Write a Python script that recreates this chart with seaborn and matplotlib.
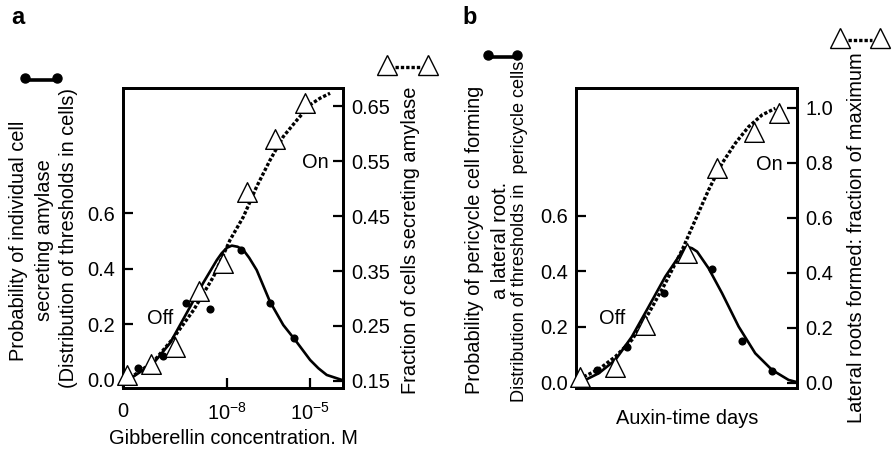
import matplotlib
matplotlib.use('Agg')
import matplotlib.pyplot as plt
import seaborn as sns
from matplotlib.lines import Line2D

# ---------------- data ----------------
# Panel a : gibberellin, x = log10 concentration (M)
a_dot_logx = [-11.21, -10.32, -9.48, -8.61, -7.50, -6.45, -5.60]
a_dot_prob = [0.042, 0.086, 0.276, 0.255, 0.468, 0.276, 0.150]
a_tri_logx = [-11.62, -10.76, -9.88, -9.01, -8.13, -7.29, -6.27, -5.18]
a_tri_frac = [0.161, 0.181, 0.212, 0.313, 0.364, 0.495, 0.590, 0.656]
a_fit_logx = [-11.39, -10.66, -10.06, -9.46, -8.86, -8.37, -8.20, -8.01, -7.83,
              -7.62, -7.41, -7.20, -6.93, -6.45, -5.97, -5.54, -5.00, -4.70,
              -4.40, -3.85]
a_fit_prob = [0.012, 0.060, 0.133, 0.241, 0.350, 0.432, 0.456, 0.476, 0.484,
              0.480, 0.468, 0.440, 0.396, 0.282, 0.198, 0.144, 0.072, 0.042,
              0.018, 0.000]
a_sig_logx = [-11.51, -10.66, -9.94, -9.21, -8.49, -7.89, -7.41, -6.93, -6.45,
              -5.97, -5.48, -5.00, -4.64, -4.28]
a_sig_frac = [0.155, 0.185, 0.228, 0.279, 0.340, 0.407, 0.449, 0.504, 0.552,
              0.595, 0.625, 0.653, 0.665, 0.674]
a_xticks = [-11.76, -8, -5]
a_xticklabels = ['0', '$10^{-8}$', '$10^{-5}$']
a_left_ticks = [0.0, 0.2, 0.4, 0.6]
a_right_ticks = [0.15, 0.25, 0.35, 0.45, 0.55, 0.65]

# Panel b : auxin-time (arbitrary day scale)
b_dot_x = [0.95, 2.31, 3.97, 6.15, 7.51, 8.87]
b_dot_prob = [0.044, 0.128, 0.320, 0.406, 0.148, 0.041]
b_tri_x = [0.20, 1.78, 3.14, 5.02, 6.38, 8.04, 9.17]
b_tri_frac = [0.021, 0.058, 0.209, 0.470, 0.780, 0.913, 0.980]
b_fit_x = [0.27, 1.03, 1.78, 2.53, 3.29, 4.04, 4.65, 4.85, 5.02, 5.25, 5.48,
           6.00, 6.61, 7.36, 8.11, 8.87, 9.62, 10.0]
b_fit_prob = [0.002, 0.032, 0.080, 0.164, 0.272, 0.380, 0.452, 0.475, 0.488,
              0.482, 0.470, 0.410, 0.320, 0.200, 0.104, 0.044, 0.008, 0.000]
b_sig_x = [0.35, 1.03, 1.78, 2.53, 3.29, 4.04, 4.80, 5.40, 6.00, 6.61, 7.21,
           7.81, 8.42, 9.02]
b_sig_frac = [0.021, 0.048, 0.094, 0.155, 0.252, 0.361, 0.482, 0.592, 0.701,
              0.798, 0.871, 0.931, 0.974, 0.998]
b_left_ticks = [0.0, 0.2, 0.4, 0.6]
b_right_ticks = [0.0, 0.2, 0.4, 0.6, 0.8, 1.0]

# ---------------- style ----------------
sns.set_theme(style='white')
plt.rcParams['font.family'] = ['Liberation Sans', 'DejaVu Sans']
plt.rcParams['mathtext.fontset'] = 'custom'
plt.rcParams['mathtext.rm'] = 'Liberation Sans'
plt.rcParams['mathtext.it'] = 'Liberation Sans:italic'
plt.rcParams['mathtext.bf'] = 'Liberation Sans:bold'
plt.rcParams['text.color'] = 'black'

FS = 14.4
W, H = 893, 450
fig = plt.figure(figsize=(W / 100, H / 100), dpi=100)


def fx(px):
    return px / W


def fy(py):
    return 1 - py / H


DOT = (0, (1.0, 0.6))


def style_axes(ax):
    for s in ax.spines.values():
        s.set_linewidth(2.0)
        s.set_color('black')
        s.set_visible(True)


def draw_panel(ax, dx, dy, fx_, fy_, tx, ty, sx, sy):
    axr = ax.twinx()
    sns.lineplot(x=fx_, y=fy_, ax=ax, color='black', linewidth=1.9,
                 sort=False, estimator=None, zorder=2)
    sns.scatterplot(x=dx, y=dy, ax=ax, color='black', s=34, linewidth=0,
                    zorder=4, clip_on=False)
    sns.lineplot(x=sx, y=sy, ax=axr, color='black', linewidth=2.4,
                 linestyle=DOT, sort=False, estimator=None, zorder=2)
    sns.scatterplot(x=tx, y=ty, ax=axr, marker='^', s=200, color='white',
                    edgecolor='black', linewidth=1.0, zorder=5, clip_on=False)
    style_axes(ax)
    style_axes(axr)
    ax.tick_params(axis='y', direction='in', length=7.5, width=1.6,
                   labelsize=FS, colors='black', left=True, right=False, pad=6)
    axr.tick_params(axis='y', direction='in', length=7.5, width=1.6,
                    labelsize=FS, colors='black', right=True, left=False, pad=6)
    ax.set_xlabel('')
    ax.set_ylabel('')
    axr.set_ylabel('')
    return axr


# Panel a
axA = fig.add_axes([fx(123), fy(388), (342.5 - 123) / W, 300 / H])
axAr = draw_panel(axA, a_dot_logx, a_dot_prob, a_fit_logx, a_fit_prob,
                  a_tri_logx, a_tri_frac, a_sig_logx, a_sig_frac)
axA.set_xlim(-11.76, -3.83)
axA.set_ylim(-0.029, 1.052)
axAr.set_ylim(0.137, 0.6836)
axA.set_yticks(a_left_ticks)
axA.set_yticklabels([f'{v:.1f}' for v in a_left_ticks])
axAr.set_yticks(a_right_ticks)
axAr.set_yticklabels([f'{v:.2f}' for v in a_right_ticks])
axA.set_xticks(a_xticks)
axA.set_xticklabels(a_xticklabels)
axA.tick_params(axis='x', direction='in', length=7.5, width=1.6,
                labelsize=FS, colors='black', bottom=True, pad=10)

# Panel b
axB = fig.add_axes([fx(576), fy(388), (797 - 576) / W, 300 / H])
axBr = draw_panel(axB, b_dot_x, b_dot_prob, b_fit_x, b_fit_prob,
                  b_tri_x, b_tri_frac, b_sig_x, b_sig_frac)
axB.set_xlim(0, 10)
axB.set_ylim(-0.021, 1.059)
axBr.set_ylim(-0.02, 1.072)
axB.set_yticks(b_left_ticks)
axB.set_yticklabels([f'{v:.1f}' for v in b_left_ticks])
axBr.set_yticks(b_right_ticks)
axBr.set_yticklabels([f'{v:.1f}' for v in b_right_ticks])
axB.set_xticks([])

# ---------------- texts ----------------
def vtext(px, py, s, size=FS):
    fig.text(fx(px), fy(py), s, rotation=90, ha='center', va='center',
             fontsize=size, color='black')


vtext(18.5, 241, 'Probability of individual cell')
vtext(45, 240, 'secreting amylase')
vtext(69, 238, '(Distribution of thresholds in cells)')
vtext(411, 240, 'Fraction of cells secreting amylase')

vtext(475, 240, 'Probability of pericycle cell forming')
vtext(500, 240, 'a lateral root.')
vtext(519, 231, 'Distribution of thresholds in  pericycle cells', size=13.1)
vtext(856, 238, 'Lateral roots formed: fraction of maximum')

fig.text(fx(233), fy(438), 'Gibberellin concentration. M', ha='center',
         va='center', fontsize=FS)
fig.text(fx(687), fy(418), 'Auxin-time days', ha='center', va='center',
         fontsize=FS)

fig.text(fx(329), fy(163), 'On', ha='right', va='center', fontsize=FS)
fig.text(fx(160), fy(318), 'Off', ha='center', va='center', fontsize=FS)
fig.text(fx(783), fy(165), 'On', ha='right', va='center', fontsize=FS)
fig.text(fx(612.5), fy(318.5), 'Off', ha='center', va='center', fontsize=FS)

fig.text(fx(18), fy(18), 'a', ha='center', va='center', fontsize=17,
         fontweight='bold')
fig.text(fx(470), fy(17), 'b', ha='center', va='center', fontsize=17,
         fontweight='bold')

# ---------------- legend keys ----------------
def dot_key(x1, x2, y):
    fig.add_artist(Line2D([fx(x1), fx(x2)], [fy(y + 1.5), fy(y + 1.5)],
                          transform=fig.transFigure, color='black', lw=2.6))
    fig.add_artist(Line2D([fx(x1), fx(x2)], [fy(y), fy(y)],
                          transform=fig.transFigure, color='black', lw=0,
                          marker='o', ms=6.5))


def tri_key(x1, x2, y):
    fig.add_artist(Line2D([fx(x1 + 8), fx(x2 - 8)], [fy(y + 2), fy(y + 2)],
                          transform=fig.transFigure, color='black', lw=2.4,
                          linestyle=DOT))
    fig.add_artist(Line2D([fx(x1), fx(x2)], [fy(y), fy(y)],
                          transform=fig.transFigure, color='black', lw=0,
                          marker='^', ms=14, markerfacecolor='white',
                          markeredgecolor='black', markeredgewidth=1.0))


dot_key(25, 57, 78)
tri_key(387, 428, 65)
dot_key(488, 517, 55)
tri_key(840, 880, 38)

fig.savefig('out.png', dpi=100)
